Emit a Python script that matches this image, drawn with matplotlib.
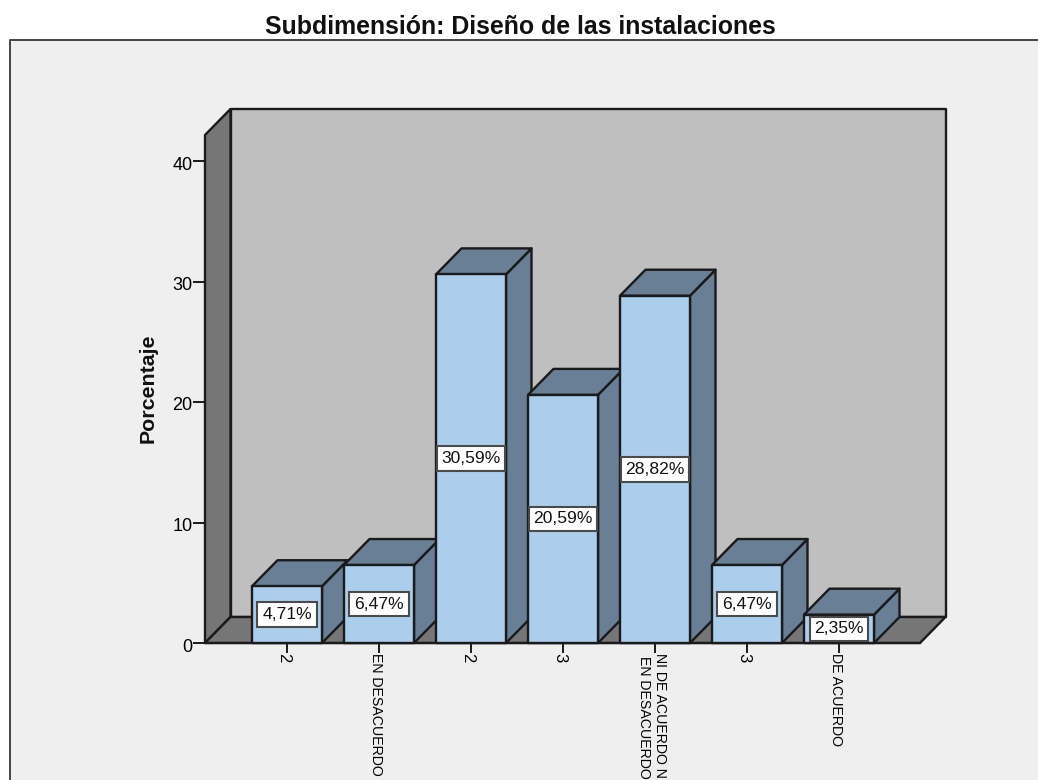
import numpy as np
from matplotlib import pyplot as plt
from matplotlib import transforms
from matplotlib.patches import Polygon, Rectangle
from matplotlib.lines import Line2D

plt.rcParams['font.family'] = ['Liberation Sans', 'DejaVu Sans']

Categories = ['2', 'EN DESACUERDO', '2', '3', 'NI DE ACUERDO NI\nEN DESACUERDO', '3', 'DE ACUERDO']
Values = [4.71, 6.47, 30.59, 20.59, 28.82, 6.47, 2.35]
Labels = ['4,71%', '6,47%', '30,59%', '20,59%', '28,82%', '6,47%', '2,35%']
Y_Ticks = [0, 10, 20, 30, 40]

W, H = 1038, 780
BG = '#EFEFEF'
FRONT = '#ABCEED'
SHADE = '#687F96'
WALL = '#BFBFBF'
DARK = '#767676'
EDGE = '#1A1A1A'

fig = plt.figure(figsize=(W/100, H/100), dpi=100, facecolor=BG)

# white strip around the chart frame
fig.patches.append(Rectangle((0, 1-40/H), 1, 40/H, transform=fig.transFigure, fc='white', ec='none'))
fig.patches.append(Rectangle((0, 0), 10/W, 1, transform=fig.transFigure, fc='white', ec='none'))
fig.add_artist(Line2D([10/W, 10/W, 1], [0, 1-40/H, 1-40/H], color='#444444', lw=1.4))

left, right, base, top = 205, 920, 643, 135
ax = fig.add_axes([left/W, 1-base/H, (right-left)/W, (base-top)/H])
ax.patch.set_visible(False)
for s in ax.spines.values():
    s.set_visible(False)

step = 92.0
unit = 12.05
ax.set_xlim((left-287)/step, (right-287)/step)
ax.set_ylim(0, (base-top)/unit)

# depth of the 3D look, in data units
dx = 25.5/step
dy = 26/unit
x0, x1 = ax.get_xlim()
ymax = ax.get_ylim()[1]


def Face(pts, color, z):
    ax.add_patch(Polygon(pts, closed=True, fc=color, ec=EDGE, lw=1.7, joinstyle='round', clip_on=False, zorder=z))


Face([(x0+dx, dy), (x1+dx, dy), (x1+dx, ymax+dy), (x0+dx, ymax+dy)], WALL, 1)
Face([(x0, 0), (x0+dx, dy), (x0+dx, ymax+dy), (x0, ymax)], DARK, 1.1)
Face([(x0, 0), (x1, 0), (x1+dx, dy), (x0+dx, dy)], DARK, 1.2)

half = 35/step
for i, v in enumerate(Values):
    z = 2 + i*0.1
    l, r = i-half, i+half
    Face([(r, 0), (r+dx, dy), (r+dx, v+dy), (r, v)], SHADE, z)
    Face([(l, v), (r, v), (r+dx, v+dy), (l+dx, v+dy)], SHADE, z)
    Face([(l, 0), (r, 0), (r, v), (l, v)], FRONT, z)
    ax.text(i, v/2, Labels[i], ha='center', va='center', fontsize=12.6, color='#111111', zorder=z+0.05,
            bbox=dict(boxstyle='square,pad=0.27', fc='white', ec='#4A4A4A', lw=1.5))

ax.set_yticks(Y_Ticks)
ax.set_xticks(np.arange(len(Categories)))
ax.set_xticklabels(Categories, rotation=270, ha='center', va='top', linespacing=1.25)
ax.tick_params(axis='y', length=8.6, width=1.4, labelsize=13, pad=0.5, color=EDGE)
ax.tick_params(axis='x', length=7, width=1.4, labelsize=10.2, pad=0.5, color=EDGE)
ax.plot([x0, x1], [0, 0], color=EDGE, lw=1.6, clip_on=False, zorder=1.3)

# nudge tick labels a few pixels, x labels left and y labels down
shift_x = transforms.ScaledTranslation(-3/100, 0, fig.dpi_scale_trans)
shift_y = transforms.ScaledTranslation(0, -2/100, fig.dpi_scale_trans)
for t in ax.get_xticklabels():
    t.set_transform(t.get_transform() + shift_x)
    # the single digit labels read larger than the worded ones
    if len(t.get_text()) == 1:
        t.set_fontsize(12)
for t in ax.get_yticklabels():
    t.set_transform(t.get_transform() + shift_y)

fig.text(520/W, 1-27.5/H, 'Subdimensión: Diseño de las instalaciones', ha='center', va='center',
         fontsize=17.9, fontweight='bold', color='#111111')
fig.text(148/W, 1-388/H, 'Porcentaje', ha='center', va='center', rotation=90,
         fontsize=15.4, fontweight='bold', color='#111111')

fig.savefig('out.png', dpi=100, facecolor=fig.get_facecolor())
